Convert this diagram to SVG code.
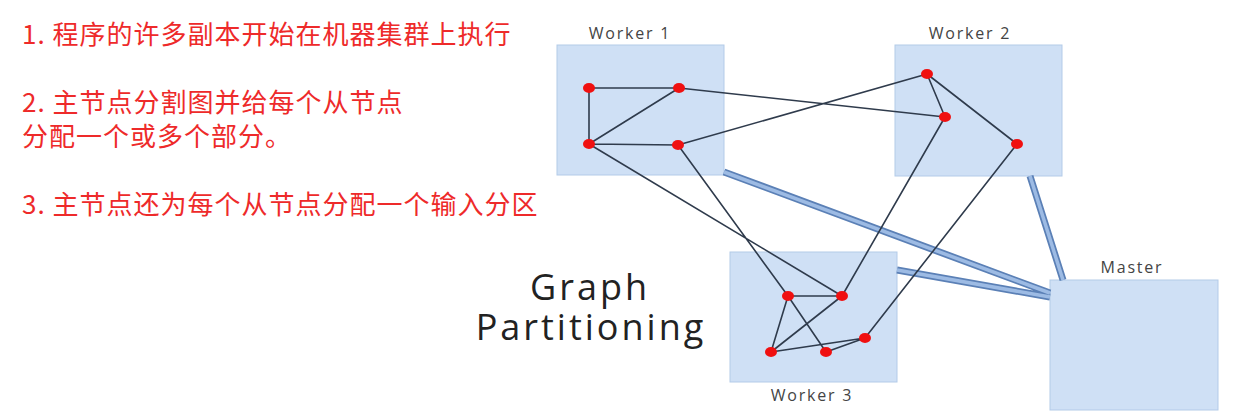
<svg xmlns="http://www.w3.org/2000/svg" width="1235" height="418" viewBox="0 0 1235 418">
<style>
.box{fill:#cfe0f5;stroke:#b3cbe8;stroke-width:1}
.lbl{font-family:"Open Sans","Liberation Sans",sans-serif;font-size:16px;fill:#444;letter-spacing:1.8px}
.note{font-family:"Noto Sans CJK SC","Noto Sans",sans-serif;font-size:26px;fill:#ee2a2a;letter-spacing:1px}
.title{font-family:"Open Sans","Liberation Sans",sans-serif;font-size:36px;fill:#222;letter-spacing:3px}
.e{stroke:#2f3b4c;stroke-width:1.6;fill:none}
.tko{stroke:#5b80b6;stroke-width:7;fill:none}
.tki{stroke:#9dbbe4;stroke-width:3.5;fill:none}
.v{fill:#f01010}
</style>
<rect width="1235" height="418" fill="#ffffff"/>
<g id="notes">
<text class="note" x="22" y="44">1. 程序的许多副本开始在机器集群上执行</text>
<text class="note" x="22" y="112">2. 主节点分割图并给每个从节点</text>
<text class="note" x="22" y="146">分配一个或多个部分。</text>
<text class="note" x="22" y="214">3. 主节点还为每个从节点分配一个输入分区</text>
</g>
<g id="title">
<text class="title" x="590" y="300" text-anchor="middle">Graph</text>
<text class="title" x="591" y="340" text-anchor="middle">Partitioning</text>
</g>
<g id="worker1">
<rect class="box" x="557" y="45" width="167" height="130"/>
<text class="lbl" x="630" y="39" text-anchor="middle">Worker 1</text>
</g>
<g id="worker2">
<rect class="box" x="895" y="45" width="167" height="131"/>
<text class="lbl" x="970" y="39" text-anchor="middle">Worker 2</text>
</g>
<g id="worker3">
<rect class="box" x="730" y="252" width="167" height="130"/>
<text class="lbl" x="812" y="401" text-anchor="middle">Worker 3</text>
</g>
<g id="master">
<rect class="box" x="1050" y="280" width="168" height="130"/>
<text class="lbl" x="1132" y="273" text-anchor="middle">Master</text>
</g>
<g id="connectors">
<path class="tko" d="M724 172 L1050 293 M897 270 L1050 297 M1030 176 L1063 280"/>
<path class="tki" d="M724 172 L1050 293 M897 270 L1050 297 M1030 176 L1063 280"/>
<path class="e" d="M589 88 L679 88 M589 88 L589 144 M589 144 L679 88 M589 144 L678 145 M679 88 L945 117 M678 145 L927 74 M927 74 L945 117 M927 74 L1017 144 M589 144 L842 296 M678 145 L788 296 M945 117 L842 296 M1017 144 L865 338 M788 296 L842 296 M788 296 L771 352 M788 296 L826 352 M771 352 L842 296 M771 352 L865 338 M826 352 L865 338"/>
</g>
<g id="vertices">
<ellipse class="v" cx="589" cy="88" rx="6" ry="5"/>
<ellipse class="v" cx="679" cy="88" rx="6" ry="5"/>
<ellipse class="v" cx="589" cy="144" rx="6" ry="5"/>
<ellipse class="v" cx="678" cy="145" rx="6" ry="5"/>
<ellipse class="v" cx="927" cy="74" rx="6" ry="5"/>
<ellipse class="v" cx="945" cy="117" rx="6" ry="5"/>
<ellipse class="v" cx="1017" cy="144" rx="6" ry="5"/>
<ellipse class="v" cx="788" cy="296" rx="6" ry="5"/>
<ellipse class="v" cx="842" cy="296" rx="6" ry="5"/>
<ellipse class="v" cx="771" cy="352" rx="6" ry="5"/>
<ellipse class="v" cx="826" cy="352" rx="6" ry="5"/>
<ellipse class="v" cx="865" cy="338" rx="6" ry="5"/>
</g>
</svg>
